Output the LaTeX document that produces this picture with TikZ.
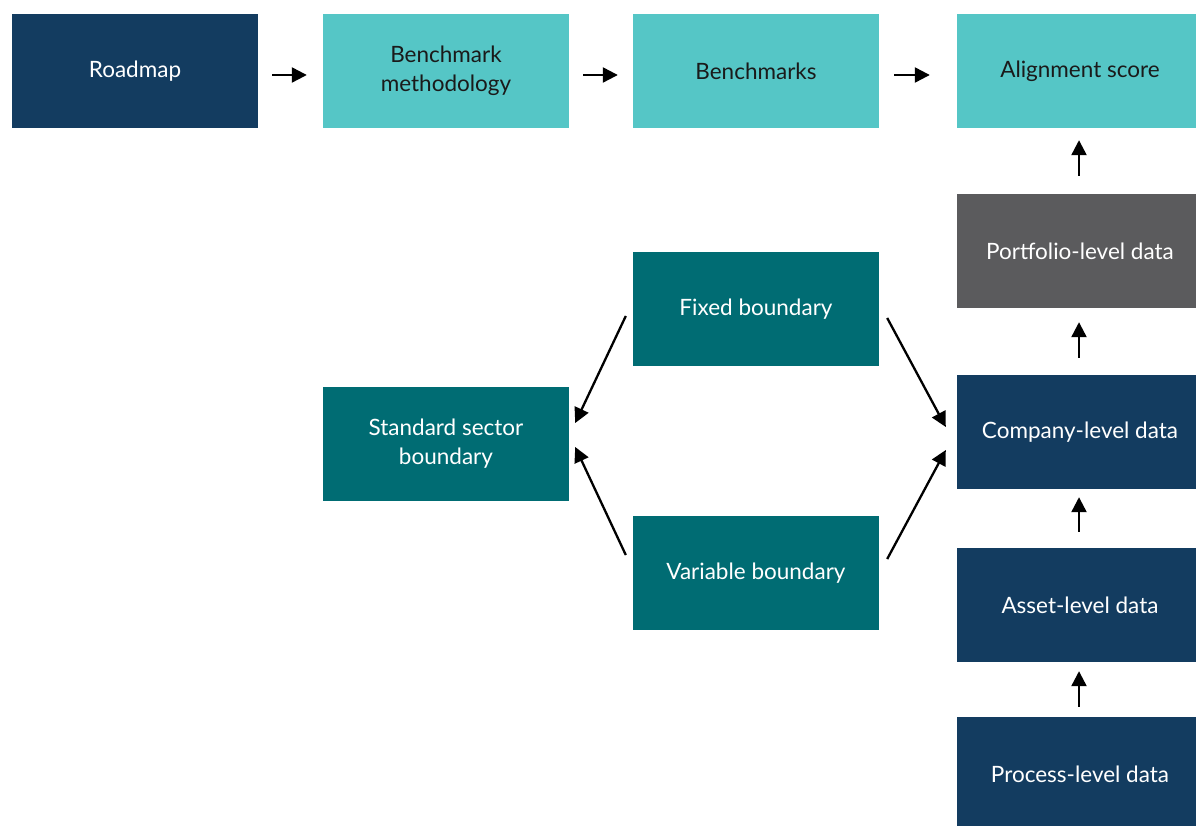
\documentclass[tikz,border=0pt]{standalone}
\usepackage{fontspec}
\setmainfont{Lato}
\usetikzlibrary{arrows.meta}
\definecolor{navy}{HTML}{133C60}
\definecolor{lteal}{HTML}{55C6C6}
\definecolor{dteal}{HTML}{006C73}
\definecolor{greyb}{HTML}{5B5B5D}
\definecolor{txtdark}{HTML}{1A1A1A}
\tikzset{
  boxbase/.style={minimum width=246pt, minimum height=114pt, inner sep=0pt, align=center,
    font=\fontsize{22.5}{29}\selectfont},
  navybox/.style={boxbase, fill=navy, text=white},
  lightbox/.style={boxbase, fill=lteal, text=txtdark},
  tealbox/.style={boxbase, fill=dteal, text=white},
  greybox/.style={boxbase, fill=greyb, text=white},
  conn/.style={line width=2.3pt, -{Triangle[length=15pt,width=15pt]}},
}
\begin{document}
\begin{tikzpicture}[x=1pt,y=-1pt]
\useasboundingbox (0,0) rectangle (1196,826);
\node[navybox] (road) at (135,71) {Roadmap};
\node[lightbox] (bm) at (446,71) {Benchmark\\methodology};
\node[lightbox] (bench) at (756,71) {Benchmarks};
\node[lightbox] (align) at (1080,71) {Alignment score};
\node[greybox] (port) at (1080,251) {Portfolio-level data};
\node[navybox] (comp) at (1080,432) {Company-level data};
\node[navybox] (asset) at (1080,605) {Asset-level data};
\node[navybox] (proc) at (1080,774) {Process-level data};
\node[tealbox] (fixed) at (756,309) {Fixed boundary};
\node[tealbox] (std) at (446,444) {Standard sector\\boundary};
\node[tealbox] (var) at (756,573) {Variable boundary};
% horizontal arrows
\draw[conn] ([shift={(14,4)}]road.east) -- ([shift={(-16,4)}]bm.west);
\draw[conn] ([shift={(14,4)}]bm.east) -- ([shift={(-15,4)}]bench.west);
\draw[conn] ([shift={(15,4)}]bench.east) -- ([shift={(-27,4)}]align.west);
% vertical arrows
\draw[conn] ([shift={(-1,-18)}]port.north) -- ([shift={(-1,12)}]align.south);
\draw[conn] ([shift={(-1,-17)}]comp.north) -- ([shift={(-1,14)}]port.south);
\draw[conn] ([shift={(-1,-16)}]asset.north) -- ([shift={(-1,8)}]comp.south);
\draw[conn] ([shift={(-1,-10)}]proc.north) -- ([shift={(-1,9)}]asset.south);
% diagonal arrows
\draw[conn] ([shift={(-7,7)}]fixed.west) -- ([shift={(6,-21)}]std.east);
\draw[conn] ([shift={(-7,-18)}]var.west) -- ([shift={(6,3)}]std.east);
\draw[conn] ([shift={(8,9)}]fixed.east) -- ([shift={(-11,-5)}]comp.west);
\draw[conn] ([shift={(8,-14)}]var.east) -- ([shift={(-11,18)}]comp.west);
\end{tikzpicture}
\end{document}
